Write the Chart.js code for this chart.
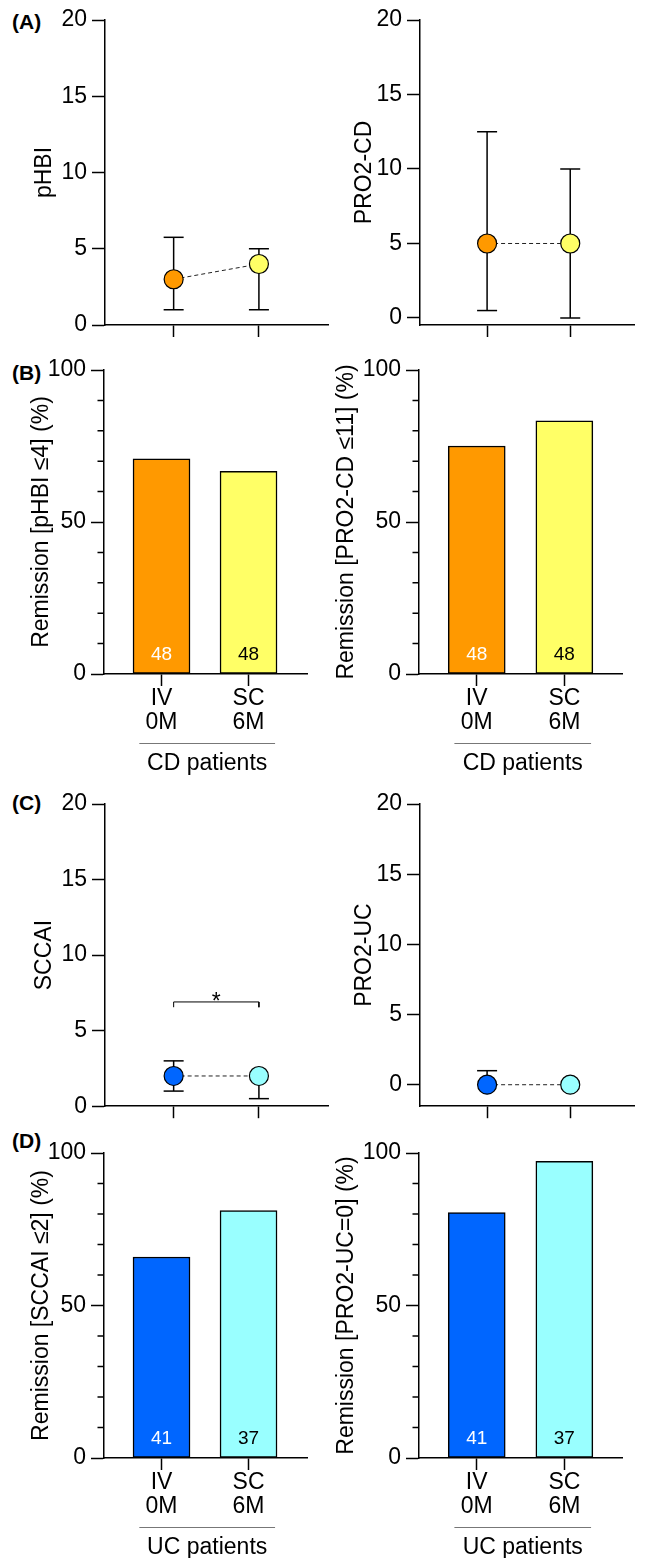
<!DOCTYPE html>
<html>
<head>
<meta charset="utf-8">
<script src="https://cdn.jsdelivr.net/npm/chart.js@4.4.0/dist/chart.umd.min.js"></script>
<style>
  html, body { margin: 0; padding: 0; background: #fff; }
  #figure { position: relative; width: 646px; height: 1558px; overflow: hidden; }
  #figure canvas { position: absolute; }
  .panel-tag { position: absolute; font: bold 21px 'Liberation Sans', Arial, sans-serif; line-height: 22px; color: #000; }
</style>
</head>
<body>
<div id="figure">
  <div class="panel-tag" style="left:12px;top:11px">(A)</div>
  <div class="panel-tag" style="left:12px;top:362px">(B)</div>
  <div class="panel-tag" style="left:12px;top:792px">(C)</div>
  <div class="panel-tag" style="left:12px;top:1130px">(D)</div>
</div>
<script>
const FONT = "'Liberation Sans', Arial, sans-serif";
Chart.defaults.font.family = FONT;
Chart.defaults.color = '#000';

// the two visits: IV induction (0M) and SC maintenance (6M)
const visitX = [1, 2];
const visitLabels = [['IV', '0M'], ['SC', '6M']];

// (A) CD patients, median with interquartile range
const phbiMedian = [3, 4];
const phbiLow = [1, 1];
const phbiHigh = [5.75, 5];
const pro2cdMedian = [5, 5];
const pro2cdLow = [0.5, 0];
const pro2cdHigh = [12.5, 10];

// (B) CD remission rates (%)
const phbiRemission = [70.8, 66.7];
const pro2cdRemission = [75.0, 83.3];
const cdCounts = [48, 48];

// (C) UC patients, median with interquartile range
const sccaiMedian = [2, 2];
const sccaiLow = [1, 0.5];
const sccaiHigh = [3, 2];
const pro2ucMedian = [0, 0];
const pro2ucLow = [0, 0];
const pro2ucHigh = [1, 0];
const sccaiSignificance = [6.9];

// (D) UC remission rates (%)
const sccaiRemission = [65.9, 81.1];
const pro2ucRemission = [80.5, 97.3];
const ucCounts = [41, 37];

const dotTicks = [0, 5, 10, 15, 20];
const barTicks = [0, 50, 100];
const barMinorTicks = [10, 20, 30, 40, 60, 70, 80, 90];

const cdColors = ['#ff9900', '#ffff66'];
const ucColors = ['#0066ff', '#99ffff'];
const countTextColors = ['#ffffff', '#000000'];

const TEXT_SIZE = 23;

function makeCanvas(box) {
  const canvas = document.createElement('canvas');
  canvas.width = box.width;
  canvas.height = box.height;
  canvas.style.left = box.left + 'px';
  canvas.style.top = box.top + 'px';
  document.getElementById('figure').appendChild(canvas);
  return canvas;
}

function yScale(opts) {
  return {
    type: 'linear',
    min: opts.min,
    max: opts.max,
    afterBuildTicks: (scale) => { scale.ticks = opts.ticks.map((v) => ({ value: v })); },
    afterFit: (scale) => { scale.width = opts.width; },
    border: { display: true, color: '#000', width: 1.5 },
    grid: { drawOnChartArea: false, drawTicks: true, tickLength: 13, tickColor: '#000', tickWidth: 1.5 },
    ticks: { autoSkip: false, padding: 5, color: '#000', font: { size: TEXT_SIZE } },
    title: {
      display: true,
      text: opts.title,
      color: '#000',
      font: { size: TEXT_SIZE },
      padding: { top: opts.titleX - TEXT_SIZE * 0.6, bottom: 0 }
    }
  };
}

function xScale(opts) {
  return {
    type: 'linear',
    min: opts.min,
    max: opts.max,
    offset: false,
    afterBuildTicks: (scale) => { scale.ticks = visitX.map((v) => ({ value: v })); },
    afterFit: (scale) => { scale.height = opts.height; },
    border: { display: true, color: '#000', width: 1.5 },
    grid: { offset: false, drawOnChartArea: false, drawTicks: true, tickLength: 12, tickColor: '#000', tickWidth: 1.5 },
    ticks: {
      autoSkip: false,
      maxRotation: 0,
      padding: 1,
      color: '#000',
      font: { size: TEXT_SIZE, lineHeight: 24 / TEXT_SIZE },
      callback: opts.labels ? (v) => visitLabels[visitX.indexOf(v)] : () => ''
    }
  };
}

function frame(box, area) {
  return {
    padding: { left: 0, top: area.top - box.top, right: box.left + box.width - area.right, bottom: 0 },
    yWidth: area.left - box.left,
    xHeight: box.top + box.height - area.bottom
  };
}

function whiskerPoints(median, low, high) {
  const points = [];
  visitX.forEach((x, i) => {
    if (low[i] !== high[i]) {
      points.push({ x, y: low[i] }, { x, y: high[i] });
    }
    points.push({ x: x + 0.5, y: null });
  });
  return points;
}

function capPoints(median, low, high) {
  const points = [];
  visitX.forEach((x, i) => {
    if (low[i] < median[i]) points.push({ x, y: low[i] });
    if (high[i] > median[i]) points.push({ x, y: high[i] });
  });
  return points;
}

const minorTicksPlugin = {
  id: 'minorTicks',
  afterDraw(chart) {
    const y = chart.scales.y;
    const ctx = chart.ctx;
    ctx.save();
    ctx.strokeStyle = '#000';
    ctx.lineWidth = 1.5;
    ctx.beginPath();
    barMinorTicks.forEach((v) => {
      const py = y.getPixelForValue(v);
      ctx.moveTo(y.right - 6.5, py);
      ctx.lineTo(y.right, py);
    });
    ctx.stroke();
    ctx.restore();
  }
};

function countLabels(counts) {
  return {
    id: 'countLabels',
    afterDatasetsDraw(chart) {
      const meta = chart.getDatasetMeta(0);
      const base = chart.scales.y.getPixelForValue(0);
      const ctx = chart.ctx;
      ctx.save();
      ctx.font = `19px ${FONT}`;
      ctx.textAlign = 'center';
      ctx.textBaseline = 'middle';
      meta.data.forEach((bar, i) => {
        ctx.fillStyle = countTextColors[i];
        ctx.fillText(String(counts[i]), bar.x, base - 19);
      });
      ctx.restore();
    }
  };
}

function groupLabel(text) {
  return {
    id: 'groupLabel',
    afterDraw(chart) {
      const x = chart.scales.x;
      const top = chart.chartArea.bottom;
      const x0 = x.getPixelForValue(0.745);
      const x1 = x.getPixelForValue(2.305);
      const ctx = chart.ctx;
      ctx.save();
      ctx.strokeStyle = '#777';
      ctx.lineWidth = 1;
      ctx.beginPath();
      ctx.moveTo(x0, top + 69.5);
      ctx.lineTo(x1, top + 69.5);
      ctx.stroke();
      ctx.fillStyle = '#000';
      ctx.font = `${TEXT_SIZE}px ${FONT}`;
      ctx.textAlign = 'center';
      ctx.textBaseline = 'middle';
      ctx.fillText(text, (x0 + x1) / 2, top + 89.5);
      ctx.restore();
    }
  };
}

function asteriskLabel(level) {
  return {
    id: 'asterisk',
    afterDraw(chart) {
      const x = chart.scales.x;
      const y = chart.scales.y;
      const ctx = chart.ctx;
      ctx.save();
      ctx.fillStyle = '#000';
      ctx.font = `${TEXT_SIZE}px ${FONT}`;
      ctx.textAlign = 'center';
      ctx.textBaseline = 'alphabetic';
      ctx.fillText('*', (x.getPixelForValue(visitX[0]) + x.getPixelForValue(visitX[1])) / 2, y.getPixelForValue(level) + 7);
      ctx.restore();
    }
  };
}

function dotChart(box, area, o) {
  const f = frame(box, area);
  const datasets = [
    {
      data: visitX.map((x, i) => ({ x, y: o.median[i] })),
      showLine: false,
      pointRadius: 9.5,
      pointBackgroundColor: o.colors,
      pointBorderColor: '#000',
      pointBorderWidth: 1.2,
      clip: false,
      order: 0
    },
    {
      data: visitX.map((x, i) => ({ x, y: o.median[i] })),
      showLine: true,
      borderColor: '#222',
      borderWidth: 1,
      borderDash: [4, 3],
      pointRadius: 0,
      clip: false,
      order: 1
    },
    {
      data: whiskerPoints(o.median, o.low, o.high),
      showLine: true,
      spanGaps: false,
      borderColor: '#000',
      borderWidth: 1.5,
      pointRadius: 0,
      clip: false,
      order: 2
    },
    {
      data: capPoints(o.median, o.low, o.high),
      showLine: false,
      pointStyle: 'line',
      pointRadius: 10,
      pointBorderColor: '#000',
      pointBorderWidth: 1.5,
      clip: false,
      order: 2
    }
  ];
  const plugins = [];
  if (o.significance) {
    const level = o.significance[0];
    datasets.push({
      data: [
        { x: visitX[0], y: level - 0.35 }, { x: visitX[0], y: level },
        { x: visitX[1], y: level }, { x: visitX[1], y: level - 0.35 }
      ],
      showLine: true,
      borderColor: '#000',
      borderWidth: 1,
      pointRadius: 0,
      clip: false,
      order: 3
    });
    plugins.push(asteriskLabel(level));
  }
  return new Chart(makeCanvas(box), {
    type: 'scatter',
    data: { datasets },
    plugins,
    options: {
      responsive: false,
      animation: false,
      events: [],
      layout: { padding: f.padding },
      plugins: { legend: { display: false }, tooltip: { enabled: false } },
      scales: {
        x: xScale({ min: o.xMin, max: o.xMax, height: f.xHeight, labels: false }),
        y: yScale({ min: o.yMin, max: 20, ticks: dotTicks, width: f.yWidth, title: o.title, titleX: o.titleX })
      }
    }
  });
}

function barChart(box, area, o) {
  const f = frame(box, area);
  return new Chart(makeCanvas(box), {
    type: 'bar',
    data: {
      datasets: [{
        data: visitX.map((x, i) => ({ x, y: o.values[i] })),
        backgroundColor: o.colors,
        borderColor: '#000',
        borderWidth: 1.5,
        borderSkipped: false,
        barThickness: 57
      }]
    },
    plugins: [minorTicksPlugin, countLabels(o.counts), groupLabel(o.group)],
    options: {
      responsive: false,
      animation: false,
      events: [],
      layout: { padding: f.padding },
      plugins: { legend: { display: false }, tooltip: { enabled: false } },
      scales: {
        x: xScale({ min: o.xMin, max: o.xMax, height: f.xHeight, labels: true }),
        y: yScale({ min: 0, max: 100, ticks: barTicks, width: f.yWidth, title: o.title, titleX: o.titleX })
      }
    }
  });
}

// row A
dotChart({ left: 0, top: 0, width: 340, height: 345 }, { left: 105, top: 20, right: 333, bottom: 325 }, {
  median: phbiMedian, low: phbiLow, high: phbiHigh, colors: cdColors,
  yMin: 0, xMin: 0.195, xMax: 2.816, title: 'pHBI', titleX: 45
});
dotChart({ left: 320, top: 0, width: 326, height: 345 }, { left: 420, top: 20, right: 646, bottom: 325 }, {
  median: pro2cdMedian, low: pro2cdLow, high: pro2cdHigh, colors: cdColors,
  yMin: -0.47, xMin: 0.193, xMax: 2.773, title: 'PRO2-CD', titleX: 45
});

// row B
barChart({ left: 0, top: 345, width: 340, height: 435 }, { left: 104, top: 370, right: 307, bottom: 674 }, {
  values: phbiRemission, counts: cdCounts, colors: cdColors, group: 'CD patients',
  xMin: 0.339, xMax: 2.672, title: 'Remission [pHBI \u22644] (%)', titleX: 42
});
barChart({ left: 320, top: 345, width: 326, height: 435 }, { left: 419, top: 370, right: 622, bottom: 674 }, {
  values: pro2cdRemission, counts: cdCounts, colors: cdColors, group: 'CD patients',
  xMin: 0.341, xMax: 2.658, title: 'Remission [PRO2-CD \u226411] (%)', titleX: 26.7
});

// row C
dotChart({ left: 0, top: 780, width: 340, height: 345 }, { left: 105, top: 804, right: 333, bottom: 1108 }, {
  median: sccaiMedian, low: sccaiLow, high: sccaiHigh, colors: ucColors, significance: sccaiSignificance,
  yMin: 0, xMin: 0.195, xMax: 2.816, title: 'SCCAI', titleX: 45
});
dotChart({ left: 320, top: 780, width: 326, height: 345 }, { left: 420, top: 804, right: 646, bottom: 1108 }, {
  median: pro2ucMedian, low: pro2ucLow, high: pro2ucHigh, colors: ucColors,
  yMin: -1.53, xMin: 0.193, xMax: 2.773, title: 'PRO2-UC', titleX: 45
});

// row D
barChart({ left: 0, top: 1125, width: 340, height: 433 }, { left: 104, top: 1153, right: 307, bottom: 1458 }, {
  values: sccaiRemission, counts: ucCounts, colors: ucColors, group: 'UC patients',
  xMin: 0.339, xMax: 2.672, title: 'Remission [SCCAI \u22642] (%)', titleX: 41.7
});
barChart({ left: 320, top: 1125, width: 326, height: 433 }, { left: 419, top: 1153, right: 622, bottom: 1458 }, {
  values: pro2ucRemission, counts: ucCounts, colors: ucColors, group: 'UC patients',
  xMin: 0.341, xMax: 2.658, title: 'Remission [PRO2-UC=0] (%)', titleX: 26.7
});
</script>
</body>
</html>
